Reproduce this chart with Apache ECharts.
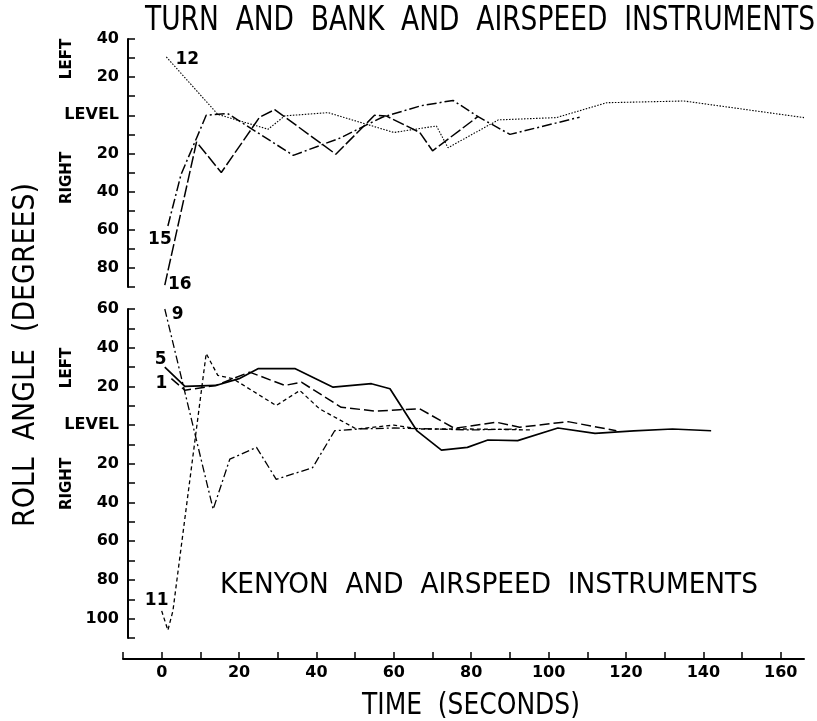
<!DOCTYPE html>
<html>
<head>
<meta charset="utf-8">
<script src="https://cdn.jsdelivr.net/npm/echarts@6/dist/echarts.min.js"></script>
<style>html,body{margin:0;padding:0;background:#fff;}#c{width:817px;height:721px;}</style>
</head>
<body>
<div id="c"></div>
<script>
// ---- data: [time (s), roll angle (deg, + = left, - = right)] ----
// Top panel: Turn and bank and airspeed instruments
const s12 = [[1.2,30.6],[14.5,0.5],[27.5,-7.3],[31.8,-0.3],[43,1.4],[60,-9],[71,-5.6],[74,-17],[87,-2.4],[102,-1.2],[115,6.6],[135,7.5],[166,-1.2]];
const s15 = [[1.6,-58],[5,-31],[9,-12],[11.5,0],[17,1],[34,-21],[46,-12],[57,-1],[67,5],[75.3,7.8],[82,-1],[90,-10],[108,-1]];
const s16 = [[0.8,-89],[9,-14],[15.4,-30],[25.3,-1],[29.2,3],[45,-20.4],[55,0],[58,-0.3],[66.7,-9],[70,-18.6],[81.7,-0.7]];
// Bottom panel: Kenyon and airspeed instruments
const s9  = [[0.8,60],[13.3,-43.5],[17.6,-17.6],[24.5,-11.5],[29.6,-28],[39,-22],[44.7,-2.9],[51,-2],[60,-1.5],[70,-2],[80,-2.5],[92,-2]];
const s11 = [[0,-96],[1.6,-106],[2.9,-96],[11.5,37],[14.5,25.7],[18.4,24],[29.6,10.1],[35.7,17.9],[40.8,8.4],[50.3,-2],[60,0],[66.7,-2],[80,-2],[96,-2.5]];
const s5  = [[0.8,30],[6,20],[14,20.5],[20,24],[25,29.2],[34.4,29.2],[44.3,19.6],[54.2,21.4],[59,18.8],[66,-3],[72.3,-12.9],[79,-11.5],[84.3,-7.7],[92,-8],[102.4,-1.5],[112,-4.3],[122,-3],[132,-2],[142,-2.9]];
const s1  = [[2.5,24],[6,18],[14,20.5],[22.7,27.4],[31.8,20.5],[36.1,22.2],[46.4,9.2],[55.5,7.2],[61.5,8],[66.7,8.4],[75.7,-1.7],[86.5,1.5],[92.5,-1.1],[105,1.8],[117.5,-2.9]];
const xTicks = [-10,0,10,20,30,40,50,60,70,80,90,100,110,120,130,140,150,160];
const xTickLabels = [0,20,40,60,80,100,120,140,160];

const topTitle = 'TURN  AND  BANK  AND  AIRSPEED  INSTRUMENTS';
const bottomTitle = 'KENYON  AND  AIRSPEED  INSTRUMENTS';
const xTitle = 'TIME  (SECONDS)';
const yTitle = 'ROLL  ANGLE  (DEGREES)';

const NARROW = "'Liberation Sans Narrow','DejaVu Sans Condensed',sans-serif";
const BOLD = "'DejaVu Sans',sans-serif";

const mctx = document.createElement('canvas').getContext('2d');
function fit(text, font, width){ mctx.font = font; return width / mctx.measureText(text).width; }

function yLabel(v){
  if (v === 0) return 'LEVEL';
  if (v % 20 === 0) return String(Math.abs(v));
  return '';
}
function yAxisCfg(grid, min, max){
  return {
    type:'value', gridIndex:grid, min:min, max:max, interval:10, offset:-5,
    axisLine:{show:true, onZero:false, lineStyle:{color:'#000', width:2}},
    axisTick:{show:true, inside:true, length:7, lineStyle:{color:'#000', width:1.5}},
    axisLabel:{formatter:yLabel, color:'#000', fontFamily:BOLD, fontWeight:'bold', fontSize:16, margin:9},
    splitLine:{show:false}
  };
}
function tag(point, text, off){
  return {coord:point, symbol:'circle', symbolSize:0,
    label:{show:true, position:'inside', formatter:text, offset:off, color:'#000',
      fontFamily:BOLD, fontWeight:'bold', fontSize:17}};
}
function ser(name, data, xi, dash, width, mark){
  return {name:name, type:'line', xAxisIndex:xi, yAxisIndex:xi, data:data, symbol:'none',
    lineStyle:{color:'#000', width:width, type:dash}, silent:true,
    markPoint:{silent:true, data:[mark]}};
}
function title(text, sizePx, width, extra){
  const font = sizePx + 'px ' + NARROW;
  return Object.assign({type:'text', scaleX:fit(text, font, width),
    style:{text:text, fill:'#000', font:font}}, extra);
}

const chart = echarts.init(document.getElementById('c'), null, {renderer:'canvas'});
const t1 = title(topTitle, 34, 670, {x:145, y:4});
const t2 = title(bottomTitle, 29, 538, {x:220, y:571});
const t3 = title(yTitle, 31, 344, {x:10, y:355, rotation:Math.PI/2});
t3.style.align = 'center'; t3.style.verticalAlign = 'top';
const t4 = title(xTitle, 30, 218, {x:471, y:706});
t4.style.align = 'center'; t4.style.verticalAlign = 'middle';

chart.setOption({
  backgroundColor:'#fff',
  animation:false,
  grid:[{left:123, top:39, width:681, height:248},{left:123, top:309, width:681, height:329}],
  xAxis:[
    {gridIndex:0, type:'value', min:-10, max:166, interval:10, show:false},
    {gridIndex:1, type:'value', min:-10, max:166, interval:10, position:'bottom', offset:21,
      axisLine:{show:true, onZero:false, lineStyle:{color:'#000', width:2}},
      axisTick:{show:true, inside:true, length:7, customValues:xTicks, lineStyle:{color:'#000', width:1.5}},
      axisLabel:{customValues:xTickLabels, color:'#000',
        fontFamily:BOLD, fontWeight:'bold', fontSize:16, margin:6},
      splitLine:{show:false}}
  ],
  yAxis:[yAxisCfg(0,-90,40), yAxisCfg(1,-110,60)],
  series:[
    ser('12', s12, 0, [1.5,1.5], 1.1, tag(s12[0],'12',[21,3])),
    ser('15', s15, 0, [10,3,2,3], 1.5, tag(s15[0],'15',[-8,14])),
    ser('16', s16, 0, [12,3], 1.5, tag(s16[0],'16',[15,-1])),
    ser('9',  s9,  1, [8,3,2,3], 1.3, tag(s9[0],'9',[13,6])),
    ser('11', s11, 1, [4,3], 1.3, tag(s11[0],'11',[-5,-10])),
    ser('5',  s5,  1, 'solid', 1.7, tag(s5[0],'5',[-4,-7])),
    ser('1',  s1,  1, [10,4], 1.5, tag(s1[0],'1',[-10,5]))
  ],
  graphic:[
    t1, t2, t3, t4,
    {type:'text', x:60, y:59, rotation:Math.PI/2, style:{text:'LEFT', fill:'#000', font:"bold 15px "+BOLD, align:'center', verticalAlign:'top'}},
    {type:'text', x:60, y:178, rotation:Math.PI/2, style:{text:'RIGHT', fill:'#000', font:"bold 15px "+BOLD, align:'center', verticalAlign:'top'}},
    {type:'text', x:60, y:368, rotation:Math.PI/2, style:{text:'LEFT', fill:'#000', font:"bold 15px "+BOLD, align:'center', verticalAlign:'top'}},
    {type:'text', x:60, y:484, rotation:Math.PI/2, style:{text:'RIGHT', fill:'#000', font:"bold 15px "+BOLD, align:'center', verticalAlign:'top'}}
  ]
});
</script>
</body>
</html>
